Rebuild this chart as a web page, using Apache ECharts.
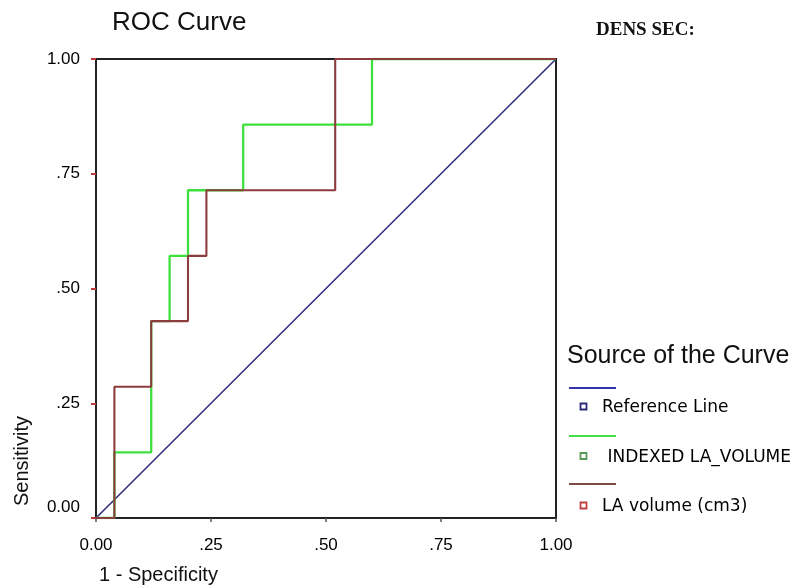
<!DOCTYPE html>
<html>
<head>
<meta charset="utf-8">
<script src="https://cdn.jsdelivr.net/npm/echarts@6/dist/echarts.min.js"></script>
<style>
html,body{margin:0;padding:0;background:#fff;}
#chart{width:797px;height:588px;}
</style>
</head>
<body>
<div id="chart"></div>
<script>
// ---- data ----
const seriesNames = ['Reference Line', 'INDEXED LA_VOLUME', 'LA volume (cm3)'];
const legendLabels = ['Reference Line', ' INDEXED LA_VOLUME', 'LA volume (cm3)'];
const refX = [0, 1];
const refY = [0, 1];
const idxX = [0, 0.04, 0.04, 0.12, 0.12, 0.16, 0.16, 0.20, 0.20, 0.32, 0.32, 0.60, 0.60, 1];
const idxY = [0, 0, 0.143, 0.143, 0.429, 0.429, 0.571, 0.571, 0.714, 0.714, 0.857, 0.857, 1, 1];
const laX = [0, 0.04, 0.04, 0.12, 0.12, 0.20, 0.20, 0.24, 0.24, 0.52, 0.52, 1];
const laY = [0, 0, 0.286, 0.286, 0.429, 0.429, 0.571, 0.571, 0.714, 0.714, 1, 1];
const tickValues = [0, 0.25, 0.5, 0.75, 1];
const tickLabels = ['0.00', '.25', '.50', '.75', '1.00'];
const titleText = 'ROC Curve';
const subtitleText = 'DENS SEC:';
const xName = '1 - Specificity';
const yName = 'Sensitivity';
const legendTitle = 'Source of the Curve';

// ---- styles ----
const lineColors = ['#30307e', '#3ee03e', '#8c3c3c'];
const legendLineColors = ['#3333aa', '#44dd44', '#7a4a44'];
const legendMarkColors = ['#2a2a7a', '#5a9a5a', '#c04040'];

function zip(xs, ys) { return xs.map((x, i) => [x, ys[i]]); }
function fmt(v) {
  const i = tickValues.findIndex(t => Math.abs(t - v) < 1e-9);
  return i >= 0 ? tickLabels[i] : '';
}

const chart = echarts.init(document.getElementById('chart'), null, {renderer: 'canvas'});

const legendGraphics = [];
legendGraphics.push({
  type: 'text', left: 567, top: 344,
  style: {text: legendTitle, font: '25px "Liberation Sans", Arial, sans-serif', fill: '#111'}
});
seriesNames.forEach((n, i) => {
  const ly = 388 + i * 48;
  const my = 407 + i * 49.5;
  legendGraphics.push({
    type: 'line', shape: {x1: 569, y1: ly, x2: 616, y2: ly},
    style: {stroke: legendLineColors[i], lineWidth: 2}
  });
  legendGraphics.push({
    type: 'rect', shape: {x: 580.5, y: my - 3.5, width: 6, height: 6},
    style: {fill: '#fff', stroke: legendMarkColors[i], lineWidth: 1.8}
  });
  legendGraphics.push({
    type: 'text', x: 602, y: my + 1,
    style: {text: legendLabels[i], font: '17px "DejaVu Sans", sans-serif', fill: '#000', verticalAlign: 'middle', textAlign: 'left'}
  });
});

const option = {
  backgroundColor: '#fff',
  animation: false,
  title: [
    {text: titleText, left: 112, top: 10, padding: 0,
     textStyle: {fontFamily: '"Liberation Sans", Arial, sans-serif', fontSize: 26, fontWeight: 'normal', color: '#111'}},
    {text: subtitleText, left: 596, top: 21, padding: 0,
     textStyle: {fontFamily: '"Liberation Serif", "Times New Roman", serif', fontSize: 19, fontWeight: 'bold', color: '#111'}}
  ],
  grid: {left: 96, top: 59, width: 460, height: 459, show: true, borderColor: '#222', borderWidth: 2, backgroundColor: 'transparent'},
  xAxis: {
    type: 'value', min: 0, max: 1, interval: 0.25,
    splitLine: {show: false},
    axisLine: {show: true, onZero: false, lineStyle: {color: '#222', width: 2}},
    axisTick: {show: true, length: 4, lineStyle: {color: '#555', width: 1.5}},
    axisLabel: {margin: 19, formatter: fmt, color: '#000', fontSize: 17, fontFamily: '"Liberation Sans", Arial, sans-serif'}
  },
  yAxis: {
    type: 'value', min: 0, max: 1, interval: 0.25,
    splitLine: {show: false},
    axisLine: {show: true, onZero: false, lineStyle: {color: '#222', width: 2}},
    axisTick: {show: true, length: 5, lineStyle: {color: '#c03a3a', width: 2}},
    axisLabel: {
      margin: 16, color: '#000', fontSize: 17, fontFamily: '"Liberation Sans", Arial, sans-serif',
      formatter: v => v === 0 ? '{z|' + fmt(v) + '}' : fmt(v),
      rich: {z: {fontSize: 17, fontFamily: '"Liberation Sans", Arial, sans-serif', color: '#000', padding: [0, 0, 22, 0]}}
    }
  },
  series: [
    {name: seriesNames[0], type: 'line', data: zip(refX, refY), symbol: 'none', z: 3,
     lineStyle: {color: lineColors[0], width: 1.6}},
    {name: seriesNames[1], type: 'line', data: zip(idxX, idxY), symbol: 'none', z: 4,
     lineStyle: {color: lineColors[1], width: 2.3}},
    {name: seriesNames[2], type: 'line', data: zip(laX, laY), symbol: 'none', z: 5,
     lineStyle: {color: lineColors[2], width: 2.1}}
  ],
  graphic: [
    {type: 'text', x: 22, y: 461, rotation: Math.PI / 2,
     style: {text: yName, font: '20px "Liberation Sans", Arial, sans-serif', fill: '#111', textAlign: 'center', verticalAlign: 'middle'}},
    {type: 'text', x: 99, y: 575,
     style: {text: xName, font: '20px "Liberation Sans", Arial, sans-serif', fill: '#111', textAlign: 'left', verticalAlign: 'middle'}}
  ].concat(legendGraphics)
};
chart.setOption(option);
</script>
</body>
</html>
